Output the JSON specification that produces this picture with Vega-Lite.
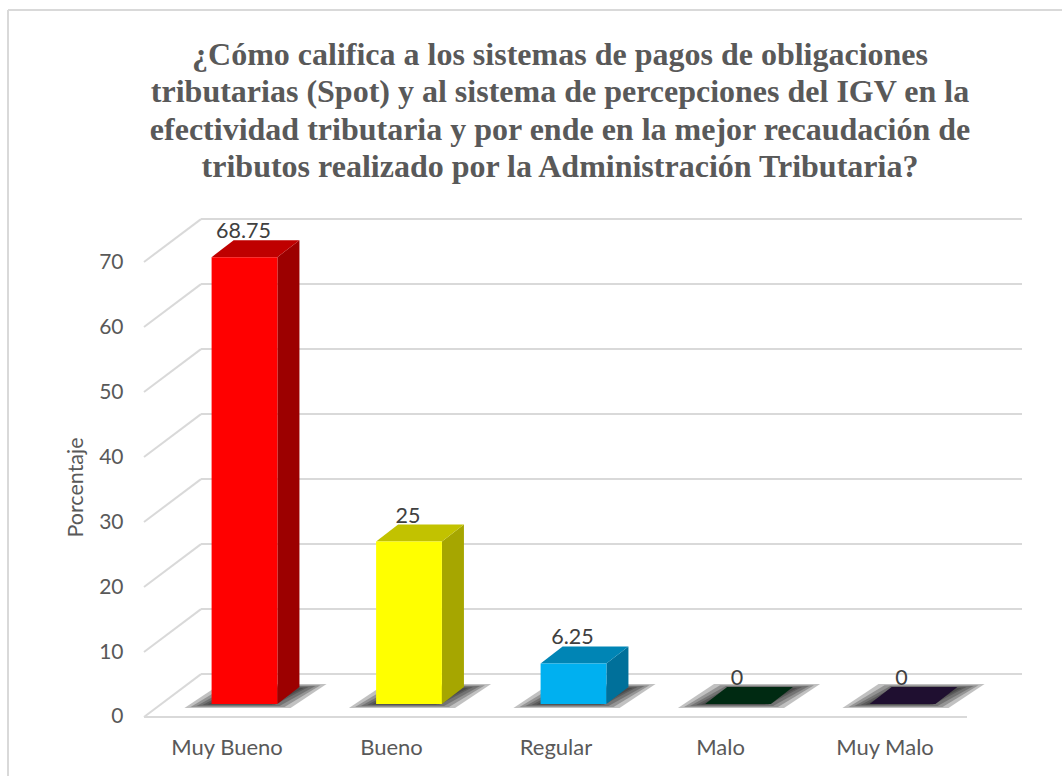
{
"$schema":"https://vega.github.io/schema/vega-lite/v6.json",
"width":1054,"height":766,
"autosize":{"type":"none"},
"padding":{"left":8,"top":10,"right":0,"bottom":0},
"background":"#ffffff",
"view":{"stroke":null,"fill":"#ffffff"},
"title":{"text":["¿Cómo califica a los sistemas de pagos de obligaciones","tributarias (Spot) y al sistema de percepciones del IGV en la","efectividad tributaria y por ende en la mejor recaudación de","tributos realizado por la Administración Tributaria?"],
"font":"Liberation Serif","fontWeight":"bold","fontSize":32,"lineHeight":37.5,"color":"#595959","anchor":"middle","baseline":"top","offset":-175,"dx":25},
"datasets":{
"barras":[
{"categoria":"Muy Bueno","pos":1,"valor":68.75},
{"categoria":"Bueno","pos":2,"valor":25},
{"categoria":"Regular","pos":3,"valor":6.25},
{"categoria":"Malo","pos":4,"valor":0},
{"categoria":"Muy Malo","pos":5,"valor":0}],
"marcas":[{"v":0},{"v":10},{"v":20},{"v":30},{"v":40},{"v":50},{"v":60},{"v":70}]
},
"layer":[
{"data":{"name":"marcas"},
"transform":[{"calculate":"datum.v+6.6","as":"v2"}],
"mark":{"type":"rule","color":"#d9d9d9","strokeWidth":2},
"encoding":{
"x":{"datum":0.7356,"type":"quantitative","scale":{"domain":[-0.4377,5.9696],"nice":false,"zero":false},
"axis":{"values":[1,2,3,4,5],"labelExpr":"['Muy Bueno','Bueno','Regular','Malo','Muy Malo'][datum.value-1]","title":null,"orient":"bottom","offset":-39,"domain":false,"ticks":false,"grid":false,"labelFont":"Lato","labelFontSize":22,"labelColor":"#595959","labelOffset":-18,"labelPadding":0}},
"x2":{"datum":5.7265},
"y":{"field":"v2","type":"quantitative","scale":{"domain":[-9.077,108.77],"nice":false,"zero":false},
"axis":{"values":[0,10,20,30,40,50,60,70],"format":"d","title":"Porcentaje","orient":"left","offset":-115,"domain":false,"ticks":false,"grid":false,"labelFont":"Lato","labelFontSize":21,"labelColor":"#595959","labelPadding":0,"titleFont":"Lato","titleFontSize":21.5,"titleFontWeight":"normal","titleColor":"#595959","titleX":-36,"titleY":477}}
}},
{"data":{"values":[{"borde":"superior"}]},
"mark":{"type":"rule","color":"#d9d9d9","strokeWidth":2},
"encoding":{
"x":{"datum":-0.4377,"type":"quantitative"},
"x2":{"datum":5.9696},
"y":{"datum":108.77,"type":"quantitative"}
}},
{"data":{"values":[{"borde":"izquierdo"}]},
"mark":{"type":"rule","color":"#d9d9d9","strokeWidth":2},
"encoding":{
"x":{"datum":-0.4377,"type":"quantitative"},
"y":{"datum":108.77,"type":"quantitative"},
"y2":{"datum":-9.077}
}},
{"data":{"name":"marcas"},
"transform":[{"calculate":"datum.v+6.6","as":"v2"}],
"mark":{"type":"rule","color":"#d9d9d9","strokeWidth":2},
"encoding":{
"x":{"datum":0.389,"type":"quantitative"},
"x2":{"datum":0.7356},
"y":{"field":"v","type":"quantitative"},
"y2":{"field":"v2"}
}},
{"data":{"name":"marcas"},
"transform":[{"filter":"datum.v==0"}],
"mark":{"type":"rule","color":"#d9d9d9","strokeWidth":2},
"encoding":{
"x":{"datum":0.389,"type":"quantitative"},
"x2":{"datum":5.392},
"y":{"field":"v","type":"quantitative"}
}},
{"data":{"name":"barras"},
"transform":[
{"calculate":"[{n:1,l:-0.365,r:0.28,d:0.219,a:-0.6,b:3.08},{n:2,l:-0.328,r:0.243,d:0.219,a:-0.45,b:2.9},{n:3,l:-0.292,r:0.213,d:0.219,a:-0.3,b:2.77},{n:4,l:-0.255,r:0.182,d:0.207,a:-0.15,b:2.6},{n:5,l:-0.225,r:0.164,d:0.195,a:-0.07,b:2.46}]","as":"s"},
{"flatten":["s"]},
{"calculate":"[0,1,2,3]","as":"k"},
{"flatten":["k"]},
{"calculate":"datum.pos+(datum.k==0?datum.s.l:datum.k==1?datum.s.l+datum.s.d:datum.k==2?datum.s.r:datum.s.r+datum.s.d)","as":"u"},
{"calculate":"2+(datum.k==0?datum.s.a:datum.s.b)","as":"arriba"},
{"calculate":"2+(datum.k==3?datum.s.b:datum.s.a)","as":"abajo"},
{"calculate":"datum.categoria+datum.s.n","as":"clave"}
],
"mark":{"type":"area","orient":"vertical","color":"#222222","opacity":0.28,"interpolate":"linear"},
"encoding":{
"x":{"field":"u","type":"quantitative"},
"y":{"field":"arriba","type":"quantitative"},
"y2":{"field":"abajo"},
"detail":{"field":"clave"}
}},
{"data":{"name":"barras"},
"transform":[
{"calculate":"[0,1]","as":"k"},
{"flatten":["k"]},
{"calculate":"datum.pos+0.2+datum.k*0.134","as":"u"},
{"calculate":"2+datum.valor+datum.k*2.6","as":"arriba"},
{"calculate":"2+datum.k*2.6","as":"abajo"}
],
"mark":{"type":"area","orient":"vertical","interpolate":"linear"},
"encoding":{
"x":{"field":"u","type":"quantitative"},
"y":{"field":"arriba","type":"quantitative"},
"y2":{"field":"abajo"},
"color":{"field":"categoria","type":"nominal","legend":null,"scale":{"domain":["Muy Bueno","Bueno","Regular","Malo","Muy Malo"],"range":["#9c0000","#a6a600","#00709a","#002a12","#1f0f30"]}}
}},
{"data":{"name":"barras"},
"transform":[
{"calculate":"[0,1,2,3]","as":"k"},
{"flatten":["k"]},
{"calculate":"datum.pos+(datum.k==0?-0.2:datum.k==1?-0.066:datum.k==2?0.2:0.334)","as":"u"},
{"calculate":"2+datum.valor+(datum.k==0?0:2.6)","as":"arriba"},
{"calculate":"2+datum.valor+(datum.k==3?2.6:0)","as":"abajo"}
],
"mark":{"type":"area","orient":"vertical","interpolate":"linear"},
"encoding":{
"x":{"field":"u","type":"quantitative"},
"y":{"field":"arriba","type":"quantitative"},
"y2":{"field":"abajo"},
"color":{"field":"categoria","type":"nominal","legend":null,"scale":{"domain":["Muy Bueno","Bueno","Regular","Malo","Muy Malo"],"range":["#bf0000","#c2c200","#0085b5","#002a12","#1f0f30"]}}
}},
{"data":{"name":"barras"},
"transform":[
{"calculate":"datum.pos-0.2","as":"u1"},
{"calculate":"datum.pos+0.2","as":"u2"},
{"calculate":"datum.valor+2","as":"arriba"},
{"calculate":"2","as":"abajo"}
],
"mark":{"type":"rect"},
"encoding":{
"x":{"field":"u1","type":"quantitative"},
"x2":{"field":"u2"},
"y":{"field":"arriba","type":"quantitative"},
"y2":{"field":"abajo"},
"color":{"field":"categoria","type":"nominal","legend":null,"scale":{"domain":["Muy Bueno","Bueno","Regular","Malo","Muy Malo"],"range":["#ff0000","#ffff00","#00b0f0","#002a12","#1f0f30"]}}
}},
{"data":{"name":"barras"},
"transform":[{"calculate":"datum.valor+2","as":"arriba"}],
"mark":{"type":"text","font":"Lato","fontSize":21.5,"color":"#404040","baseline":"middle","dy":-25,"dx":-1},
"encoding":{
"x":{"field":"pos","type":"quantitative"},
"y":{"field":"arriba","type":"quantitative"},
"text":{"field":"valor","type":"nominal"}
}}
],
"resolve":{"scale":{"color":"independent"}}
}
